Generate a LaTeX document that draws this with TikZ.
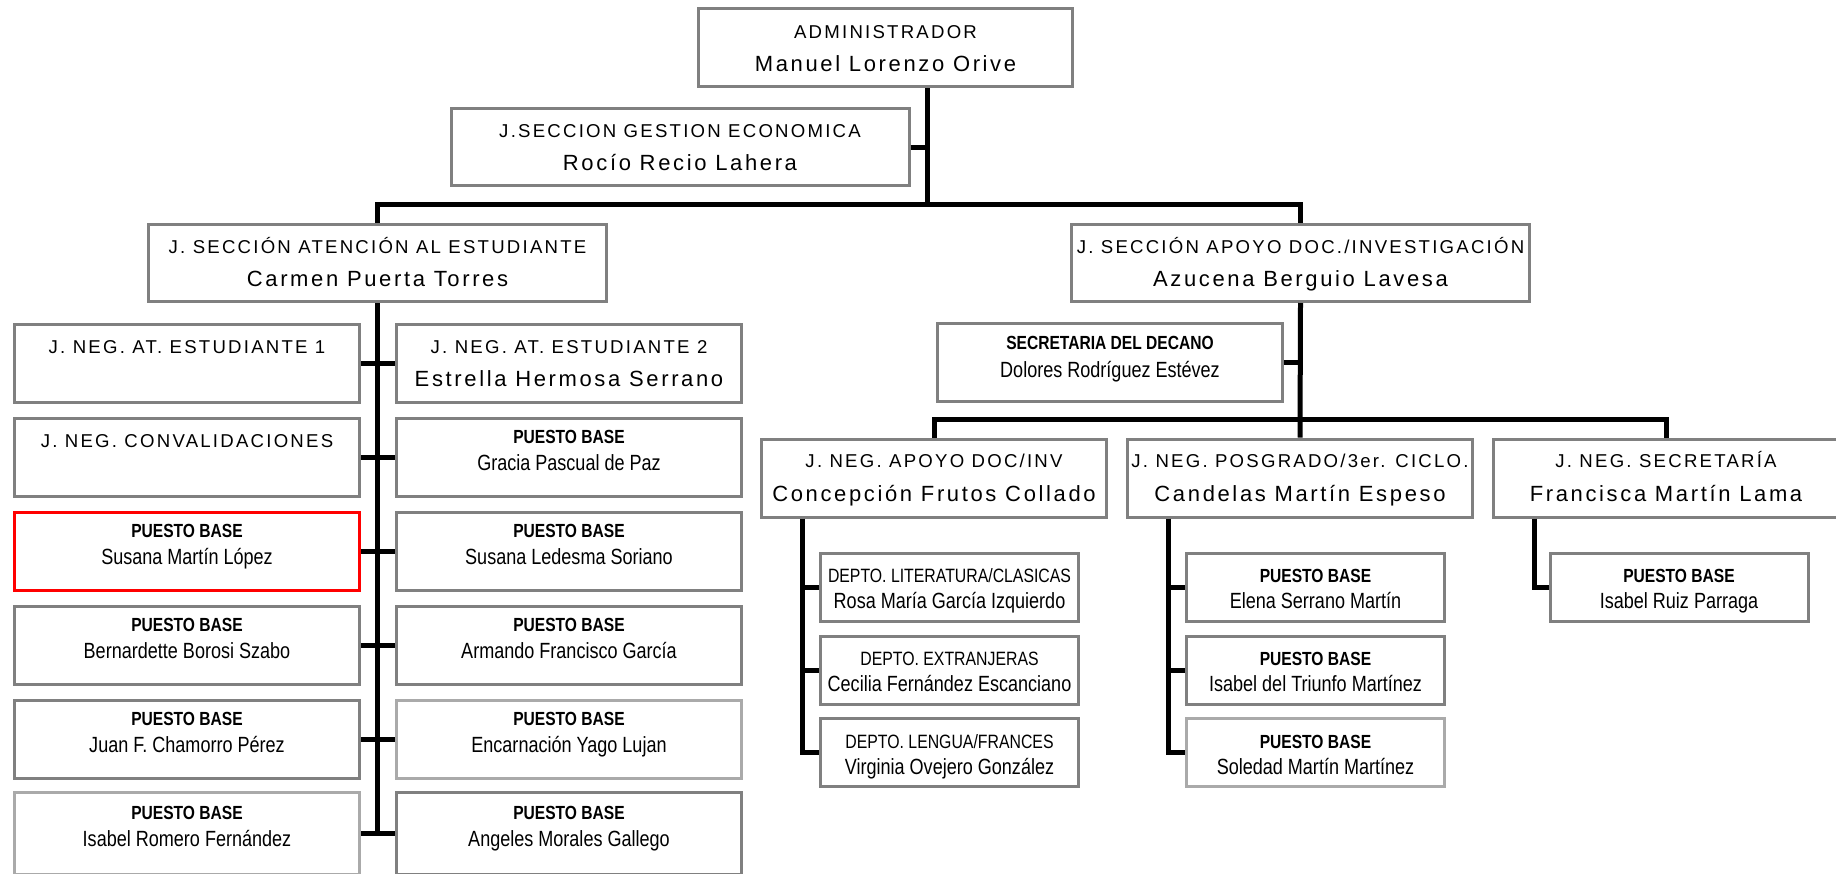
\documentclass[tikz,border=0pt]{standalone}
\usepackage{fontspec}
\usepackage{tikz}
\usepackage{xcolor}
\setmainfont{Liberation Sans}
\newfontfamily\spacedsans[LetterSpace=12]{Liberation Sans}
\newfontfamily\narrowsans[FakeStretch=0.82]{Liberation Sans}
\definecolor{boxgray}{RGB}{128,128,128}
\definecolor{palegray}{RGB}{170,170,170}
\definecolor{boxred}{RGB}{255,0,0}
\newcommand{\cargofont}{\spacedsans\fontsize{18.6}{22}\selectfont}
\newcommand{\nombrefont}{\spacedsans\fontsize{22}{26}\selectfont}
\newcommand{\puestofont}{\narrowsans\bfseries\fontsize{19}{23}\selectfont}
\newcommand{\personafont}{\narrowsans\fontsize{22}{26}\selectfont}
\newcommand{\deptofont}{\narrowsans\fontsize{19.3}{23}\selectfont}
\tikzstyle{basicbox}=[draw=boxgray, line width=3pt, rectangle, inner sep=0pt, minimum height=78pt]
\tikzstyle{headbox}=[basicbox, minimum width=458pt, minimum height=77pt]
\tikzstyle{negbox}=[basicbox, minimum width=345pt]
\tikzstyle{deptbox}=[basicbox, minimum width=258pt, minimum height=68pt]
\tikzstyle{palebox}=[draw=palegray]
\tikzstyle{redbox}=[draw=boxred]
\tikzstyle{link}=[line width=5pt]
\tikzstyle{cargotext}=[anchor=base, inner sep=0pt, font=\cargofont]
\tikzstyle{nombretext}=[anchor=base, inner sep=0pt, font=\nombrefont]
\tikzstyle{puestotext}=[anchor=base, inner sep=0pt, font=\puestofont]
\tikzstyle{personatext}=[anchor=base, inner sep=0pt, font=\personafont]
\tikzstyle{deptotext}=[anchor=base, inner sep=0pt, font=\deptofont]

\begin{document}
\begin{tikzpicture}[x=1pt, y=-1pt]
	\useasboundingbox (0,0) rectangle (1836,873);
	% direccion
	\node (admin) [basicbox, minimum width=374pt] at (885.5,47.5) {};
	\path (admin) + (0,-9.3) node [cargotext] {ADMINISTRADOR};
	\path (admin) + (0,23.9) node [nombretext] {Manuel Lorenzo Orive};
	\node (gestion) [headbox] at (680,147) {};
	\path (gestion) + (0,-9.3) node [cargotext] {J.SECCION GESTION ECONOMICA};
	\path (gestion) + (0,23.9) node [nombretext] {Rocío Recio Lahera};
	\node (atencion) [headbox] at (377.5,263) {};
	\path (atencion) + (0,-9.3) node [cargotext] {J. SECCIÓN ATENCIÓN AL ESTUDIANTE};
	\path (atencion) + (0,23.9) node [nombretext] {Carmen Puerta Torres};
	\node (apoyo) [headbox] at (1300.5,263) {};
	\path (apoyo) + (0,-9.3) node [cargotext] {J. SECCIÓN APOYO DOC./INVESTIGACIÓN};
	\path (apoyo) + (0,23.9) node [nombretext] {Azucena Berguio Lavesa};
	% atencion al estudiante
	\node (jneg1) [negbox] at (187,363) {};
	\path (jneg1) + (0,-9.3) node [cargotext] {J. NEG. AT. ESTUDIANTE 1};
	\node (jneg2) [negbox] at (569,363) {};
	\path (jneg2) + (0,-9.3) node [cargotext] {J. NEG. AT. ESTUDIANTE 2};
	\path (jneg2) + (0,23.9) node [nombretext] {Estrella Hermosa Serrano};
	\node (conval) [negbox] at (187,457) {};
	\path (conval) + (0,-9.3) node [cargotext] {J. NEG. CONVALIDACIONES};
	\node (gracia) [negbox] at (569,457) {};
	\path (gracia) + (0,-14) node [puestotext] {PUESTO BASE};
	\path (gracia) + (0,13) node [personatext] {Gracia Pascual de Paz};
	\node (susana) [negbox, redbox] at (187,551) {};
	\path (susana) + (0,-14) node [puestotext] {PUESTO BASE};
	\path (susana) + (0,13) node [personatext] {Susana Martín López};
	\node (ledesma) [negbox] at (569,551) {};
	\path (ledesma) + (0,-14) node [puestotext] {PUESTO BASE};
	\path (ledesma) + (0,13) node [personatext] {Susana Ledesma Soriano};
	\node (borosi) [negbox] at (187,645) {};
	\path (borosi) + (0,-14) node [puestotext] {PUESTO BASE};
	\path (borosi) + (0,13) node [personatext] {Bernardette Borosi Szabo};
	\node (armando) [negbox] at (569,645) {};
	\path (armando) + (0,-14) node [puestotext] {PUESTO BASE};
	\path (armando) + (0,13) node [personatext] {Armando Francisco García};
	\node (chamorro) [negbox] at (187,739) {};
	\path (chamorro) + (0,-14) node [puestotext] {PUESTO BASE};
	\path (chamorro) + (0,13) node [personatext] {Juan F. Chamorro Pérez};
	\node (encarnacion) [negbox, palebox] at (569,739) {};
	\path (encarnacion) + (0,-14) node [puestotext] {PUESTO BASE};
	\path (encarnacion) + (0,13) node [personatext] {Encarnación Yago Lujan};
	\node (romero) [negbox, palebox, minimum height=82pt] at (187,833) {};
	\path (romero) + (0,-14) node [puestotext] {PUESTO BASE};
	\path (romero) + (0,13) node [personatext] {Isabel Romero Fernández};
	\node (morales) [negbox, minimum height=82pt] at (569,833) {};
	\path (morales) + (0,-14) node [puestotext] {PUESTO BASE};
	\path (morales) + (0,13) node [personatext] {Angeles Morales Gallego};
	% apoyo doc./investigacion
	\node (decano) [negbox] at (1110,362) {};
	\path (decano) + (0,-13) node [puestotext] {SECRETARIA DEL DECANO};
	\path (decano) + (0,15) node [personatext] {Dolores Rodríguez Estévez};
	\node (apoyodoc) [negbox] at (934,478) {};
	\path (apoyodoc) + (0,-10.5) node [cargotext] {J. NEG. APOYO DOC/INV};
	\path (apoyodoc) + (0,23) node [nombretext] {Concepción Frutos Collado};
	\node (posgrado) [negbox] at (1300,478) {};
	\path (posgrado) + (0,-10.5) node [cargotext] {J. NEG. POSGRADO/3er. CICLO.};
	\path (posgrado) + (0,23) node [nombretext] {Candelas Martín Espeso};
	\node (secret) [negbox] at (1666,478) {};
	\path (secret) + (0,-10.5) node [cargotext] {J. NEG. SECRETARÍA};
	\path (secret) + (0,23) node [nombretext] {Francisca Martín Lama};
	\node (literatura) [deptbox] at (949.5,587) {};
	\path (literatura) + (0,-4.5) node [deptotext] {DEPTO. LITERATURA/CLASICAS};
	\path (literatura) + (0,21.5) node [personatext] {Rosa María García Izquierdo};
	\node (extranjeras) [deptbox] at (949.5,670) {};
	\path (extranjeras) + (0,-4.5) node [deptotext] {DEPTO. EXTRANJERAS};
	\path (extranjeras) + (0,21.5) node [personatext] {Cecilia Fernández Escanciano};
	\node (lengua) [deptbox] at (949.5,752.5) {};
	\path (lengua) + (0,-4.5) node [deptotext] {DEPTO. LENGUA/FRANCES};
	\path (lengua) + (0,21.5) node [personatext] {Virginia Ovejero González};
	\node (serrano) [deptbox] at (1315.5,587) {};
	\path (serrano) + (0,-4.5) node [puestotext] {PUESTO BASE};
	\path (serrano) + (0,21.5) node [personatext] {Elena Serrano Martín};
	\node (triunfo) [deptbox] at (1315.5,670) {};
	\path (triunfo) + (0,-4.5) node [puestotext] {PUESTO BASE};
	\path (triunfo) + (0,21.5) node [personatext] {Isabel del Triunfo Martínez};
	\node (soledad) [deptbox, palebox] at (1315.5,752.5) {};
	\path (soledad) + (0,-4.5) node [puestotext] {PUESTO BASE};
	\path (soledad) + (0,21.5) node [personatext] {Soledad Martín Martínez};
	\node (ruiz) [deptbox] at (1679,587) {};
	\path (ruiz) + (0,-4.5) node [puestotext] {PUESTO BASE};
	\path (ruiz) + (0,21.5) node [personatext] {Isabel Ruiz Parraga};
	% lineas
	\coordinate (topbus) at (927,204);
	\draw [link] (admin.south -| topbus) -- (topbus);
	\draw [link] (gestion.east) -- (gestion.east -| topbus);
	\draw [link] (atencion.north) |- (topbus) -| (apoyo.north);
	\draw [link] (atencion.south) -- (atencion.south |- romero.east);
	\draw [link] (jneg1.east) -- (jneg2.west);
	\draw [link] (conval.east) -- (gracia.west);
	\draw [link] (susana.east) -- (ledesma.west);
	\draw [link] (borosi.east) -- (armando.west);
	\draw [link] (chamorro.east) -- (encarnacion.west);
	\draw [link] (romero.east) -- (morales.west);
	\draw [link] (apoyo.south) -- (posgrado.north);
	\draw [link] (decano.east) -- (decano.east -| apoyo.south);
	\draw [link] (apoyodoc.north) -- ++(0,-18) -| (secret.north);
	\coordinate (doctrunk) at ([xshift=42pt]apoyodoc.south west);
	\coordinate (postrunk) at ([xshift=42pt]posgrado.south west);
	\coordinate (secrtrunk) at ([xshift=42pt]secret.south west);
	\draw [link] (doctrunk) |- (lengua.west);
	\draw [link] (doctrunk |- literatura.west) -- (literatura.west);
	\draw [link] (doctrunk |- extranjeras.west) -- (extranjeras.west);
	\draw [link] (postrunk) |- (soledad.west);
	\draw [link] (postrunk |- serrano.west) -- (serrano.west);
	\draw [link] (postrunk |- triunfo.west) -- (triunfo.west);
	\draw [link] (secrtrunk) |- (ruiz.west);
\end{tikzpicture}
\end{document}
